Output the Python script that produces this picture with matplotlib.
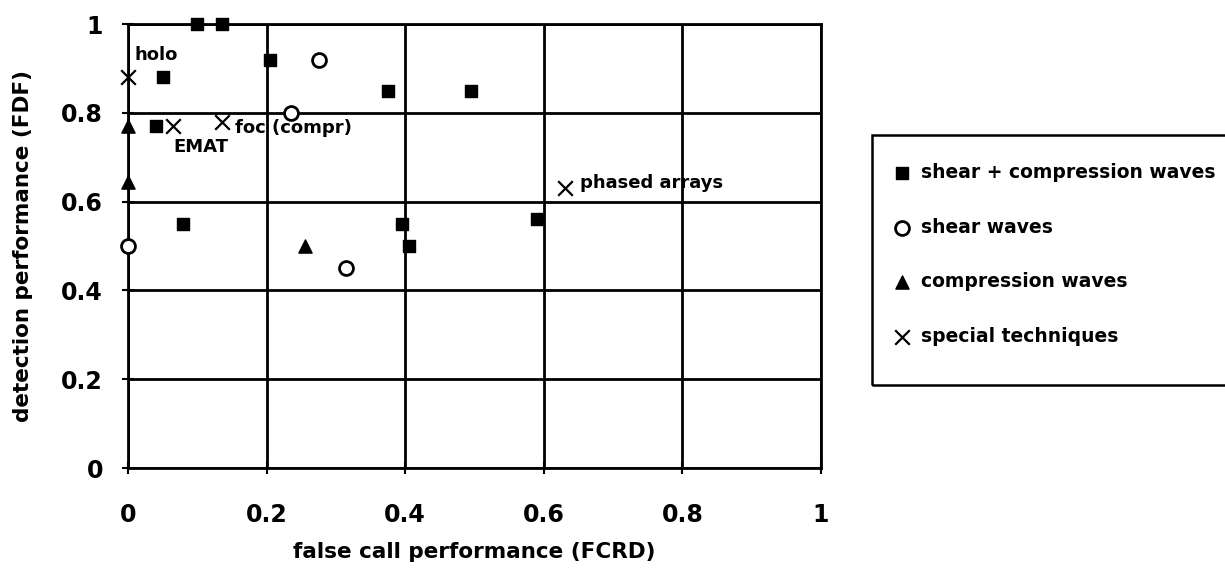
import matplotlib
matplotlib.use("Agg")
import matplotlib.pyplot as plt
from matplotlib.patches import Rectangle

# ---- data ----
sc_x = [0.10, 0.135, 0.05, 0.205, 0.375, 0.495, 0.04, 0.08, 0.395, 0.405, 0.59]
sc_y = [1.00, 1.00, 0.88, 0.92, 0.85, 0.85, 0.77, 0.55, 0.55, 0.50, 0.56]
sh_x = [0.275, 0.235, 0.0, 0.315]
sh_y = [0.92, 0.80, 0.50, 0.45]
co_x = [0.0, 0.0, 0.255]
co_y = [0.77, 0.645, 0.50]
sp_x = [0.0, 0.065, 0.135, 0.63]
sp_y = [0.88, 0.77, 0.78, 0.63]
labels = ["shear + compression waves", "shear waves", "compression waves", "special techniques"]
ann_text = ["holo", "EMAT", "foc (compr)", "phased arrays"]
ann_x = [0.01, 0.065, 0.155, 0.652]
ann_y = [0.93, 0.722, 0.765, 0.641]
ticks = [0, 0.2, 0.4, 0.6, 0.8, 1]
tick_labels = ["0", "0.2", "0.4", "0.6", "0.8", "1"]

plt.rcParams['font.family'] = ['DejaVu Sans']

W, H = 1225, 574
fig = plt.figure(figsize=(W/100, H/100), dpi=100)
ax = fig.add_axes([128/W, 1-468/H, (821-128)/W, (468-24)/H])

ax.set_xlim(0, 1)
ax.set_ylim(0, 1)
ax.set_xticks(ticks)
ax.set_yticks(ticks)
ax.set_xticklabels(tick_labels, fontsize=17, fontweight='bold')
ax.set_yticklabels(tick_labels, fontsize=17, fontweight='bold')
ax.tick_params(axis='x', direction='inout', length=8, width=1.5, pad=21, color='black')
ax.tick_params(axis='y', direction='inout', length=8, width=1.5, pad=14, color='black')
ax.grid(True, color='black', linewidth=2)
ax.set_axisbelow(True)
for s in ax.spines.values():
    s.set_linewidth(2)
    s.set_color('black')

h1 = ax.scatter(sc_x, sc_y, marker='s', s=80, c='black', label=labels[0], clip_on=False, zorder=3)
h2 = ax.scatter(sh_x, sh_y, marker='o', s=100, facecolors='white', edgecolors='black', linewidths=2,
                label=labels[1], clip_on=False, zorder=3)
h3 = ax.scatter(co_x, co_y, marker='^', s=90, c='black', label=labels[2], clip_on=False, zorder=3)
h4 = ax.scatter(sp_x, sp_y, marker='x', s=110, c='black', linewidths=1.6, label=labels[3], clip_on=False, zorder=3)

for t, x, y in zip(ann_text, ann_x, ann_y):
    ax.text(x, y, t, fontsize=13, fontweight='bold', ha='left', va='center', zorder=4)

ax.set_xlabel("false call performance (FCRD)", fontsize=15.5, fontweight='bold', labelpad=11)
ax.set_ylabel("detection performance (FDF)", fontsize=15.5, fontweight='bold', labelpad=20)

# legend box (runs off the right edge of the figure, as in the reference)
fig.patches.append(Rectangle((872/W, 1-385/H), (1260-872)/W, (385-135)/H,
                             transform=fig.transFigure, fill=False, edgecolor='black',
                             linewidth=1.8, clip_on=False))
leg = fig.legend(handles=[h1, h2, h3, h4], labels=labels, loc='upper left',
                 bbox_to_anchor=(893/W, 1-163/H), frameon=False,
                 fontsize=13.5, labelspacing=1.9, handletextpad=0.5,
                 handlelength=1.0, borderpad=0, borderaxespad=0, markerscale=1.0)
for txt in leg.get_texts():
    txt.set_fontweight('bold')

fig.savefig("out.png", dpi=100)
